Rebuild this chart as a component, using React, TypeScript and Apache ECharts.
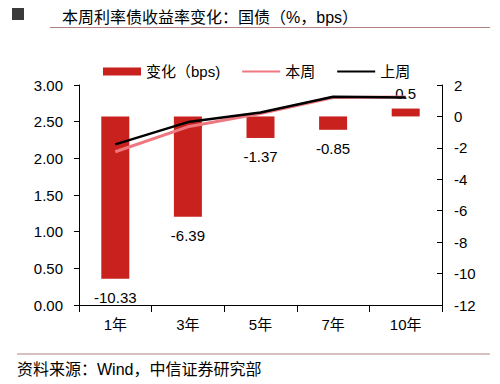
import React, { useEffect, useRef } from "react";
import * as echarts from "echarts";

const categories = ["1年", "3年", "5年", "7年", "10年"];
const changeBps = [-10.33, -6.39, -1.37, -0.85, 0.5];
const thisWeek = [2.09, 2.43, 2.61, 2.83, 2.835];
const lastWeek = [2.19, 2.494, 2.625, 2.84, 2.83];
const leftTicks = { min: 0, max: 3, interval: 0.5 };
const rightTicks = { min: -12, max: 2, interval: 2 };

const FONT = "'Liberation Sans', Arial, 'Noto Sans CJK SC', sans-serif";

export default function App() {
  const ref = useRef<HTMLDivElement>(null);
  useEffect(() => {
    if (!ref.current) return;
    const chart = echarts.init(ref.current, undefined, { renderer: "svg" });
    chart.setOption({
      animation: false,
      backgroundColor: "#fff",
      textStyle: { fontFamily: FONT },
      graphic: [
        { type: "rect", shape: { x: 12, y: 8, width: 12, height: 12 }, style: { fill: "#3a3a3a" } },
        {
          type: "text",
          x: 62,
          y: 17,
          style: { text: "本周利率债收益率变化：国债（%，bps）", fontSize: 16, fill: "#000", fontFamily: FONT, verticalAlign: "middle" },
        },
        { type: "line", shape: { x1: 50, y1: 27.5, x2: 490, y2: 27.5 }, style: { stroke: "#b38383", lineWidth: 1 } },
        { type: "line", shape: { x1: 17, y1: 354, x2: 490, y2: 354 }, style: { stroke: "#b38383", lineWidth: 1 } },
        {
          type: "text",
          x: 17,
          y: 369,
          style: { text: "资料来源：Wind，中信证券研究部", fontSize: 16, fill: "#000", fontFamily: FONT, verticalAlign: "middle" },
        },
      ],
      legend: {
        left: 98,
        top: 59,
        itemWidth: 38,
        itemHeight: 8,
        itemGap: 21,
        textStyle: { fontSize: 15, color: "#000", fontFamily: FONT },
        data: [
          { name: "变化（bps)", icon: "rect" },
          { name: "本周", itemStyle: { opacity: 0 } },
          { name: "上周", itemStyle: { opacity: 0 } },
        ],
      },
      grid: { left: 79, right: 58, top: 85, bottom: 79 },
      xAxis: {
        type: "category",
        data: categories,
        boundaryGap: true,
        axisLine: { lineStyle: { color: "#000", width: 1 } },
        axisTick: { show: true, length: 7, lineStyle: { color: "#000" } },
        axisLabel: { fontSize: 15, color: "#000", margin: 12, fontFamily: FONT },
      },
      yAxis: [
        {
          type: "value",
          position: "left",
          min: leftTicks.min,
          max: leftTicks.max,
          interval: leftTicks.interval,
          splitLine: { show: false },
          axisLine: { show: true, lineStyle: { color: "#000", width: 1 } },
          axisTick: { show: true, length: 5, lineStyle: { color: "#000" } },
          axisLabel: { fontSize: 15, color: "#000", margin: 16, formatter: (v: number) => v.toFixed(2), fontFamily: FONT },
        },
        {
          type: "value",
          position: "right",
          min: rightTicks.min,
          max: rightTicks.max,
          interval: rightTicks.interval,
          splitLine: { show: false },
          axisLine: { show: true, lineStyle: { color: "#000", width: 1 } },
          axisTick: { show: true, inside: true, length: 5, lineStyle: { color: "#000" } },
          axisLabel: { fontSize: 15, color: "#000", margin: 12, fontFamily: FONT },
        },
      ],
      series: [
        {
          name: "变化（bps)",
          type: "bar",
          yAxisIndex: 1,
          barWidth: 28,
          itemStyle: { color: "#c9211e" },
          data: changeBps.map((v) => ({
            value: v,
            label: { position: v < 0 ? "bottom" : "top", distance: v < 0 ? 11 : 8 },
          })),
          label: { show: true, fontSize: 15, color: "#000", fontFamily: FONT },
          z: 2,
        },
        {
          name: "本周",
          type: "line",
          yAxisIndex: 0,
          data: thisWeek,
          symbol: "none",
          lineStyle: { color: "#ef7880", width: 3 },
          itemStyle: { color: "#ef7880" },
          z: 3,
        },
        {
          name: "上周",
          type: "line",
          yAxisIndex: 0,
          data: lastWeek,
          symbol: "none",
          lineStyle: { color: "#000", width: 2.5 },
          itemStyle: { color: "#000" },
          z: 4,
        },
      ],
    });
    return () => chart.dispose();
  }, []);
  return <div ref={ref} style={{ position: "absolute", left: 0, top: 0, width: 500, height: 384 }} />;
}
